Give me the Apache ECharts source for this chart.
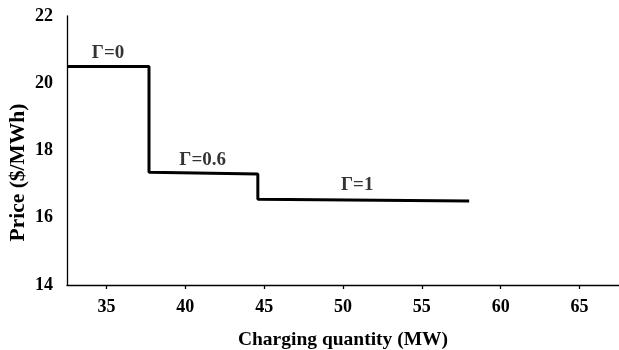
<!DOCTYPE html>
<html><head><meta charset="utf-8">
<script src="https://cdn.jsdelivr.net/npm/echarts@6/dist/echarts.min.js"></script>
<style>html,body{margin:0;padding:0;background:#fff}#c{width:619px;height:350px}</style>
</head><body><div id="c"></div>
<script>
const stepX = [32.5, 37.7, 37.7, 44.6, 44.6, 58];
const stepY = [20.5, 20.5, 17.35, 17.3, 16.55, 16.5];
const labelText = ['Γ=0', 'Γ=0.6', 'Γ=1'];
const labelX = [35.1, 41.1, 50.9];
const labelY = [20.9, 17.72, 16.98];
const xTicks = [35, 40, 45, 50, 55, 60, 65];
const yTicks = [14, 16, 18, 20, 22];

const font = 'Liberation Serif, Times New Roman, serif';
const chart = echarts.init(document.getElementById('c'), null, {renderer: 'canvas'});
chart.setOption({
  animation: false,
  grid: {left: 67, right: 0, top: 16, bottom: 65, containLabel: false, outerBoundsMode: 'none'},
  xAxis: {
    type: 'value', min: 32.5, max: 67.5,
    name: 'Charging quantity (MW)', nameLocation: 'middle', nameGap: 45,
    nameTextStyle: {fontFamily: font, fontWeight: 'bold', fontSize: 19.5, color: '#000'},
    axisLine: {lineStyle: {color: '#000', width: 1.3}},
    axisTick: {show: true, length: 4, customValues: xTicks, lineStyle: {color: '#000', width: 1.3}},
    axisLabel: {customValues: xTicks, margin: 13, fontFamily: font, fontWeight: 'bold', fontSize: 18, color: '#000'},
    splitLine: {show: false}
  },
  yAxis: {
    type: 'value', min: 14, max: 22, interval: 2,
    name: 'Price ($/MWh)', nameLocation: 'middle', nameGap: 38, nameMoveOverlap: false,
    nameTextStyle: {fontFamily: font, fontWeight: 'bold', fontSize: 21.5, color: '#000', padding: [0, 44, 0, 0]},
    axisLine: {show: true, lineStyle: {color: '#000', width: 1.3}},
    axisTick: {show: false},
    axisLabel: {customValues: yTicks, margin: 14, fontFamily: font, fontWeight: 'bold', fontSize: 18, color: '#000'},
    splitLine: {show: false}
  },
  series: [
    {
      type: 'line', data: stepX.map((x, i) => [x, stepY[i]]),
      showSymbol: false, lineStyle: {color: '#000', width: 3}, z: 3
    },
    {
      type: 'scatter', symbolSize: 0,
      data: labelX.map((x, i) => ({value: [x, labelY[i]], name: labelText[i]})),
      label: {show: true, position: 'inside', formatter: p => p.name,
        fontFamily: font, fontWeight: 'bold', fontSize: 19, color: '#000'}
    }
  ]
});
</script></body></html>
